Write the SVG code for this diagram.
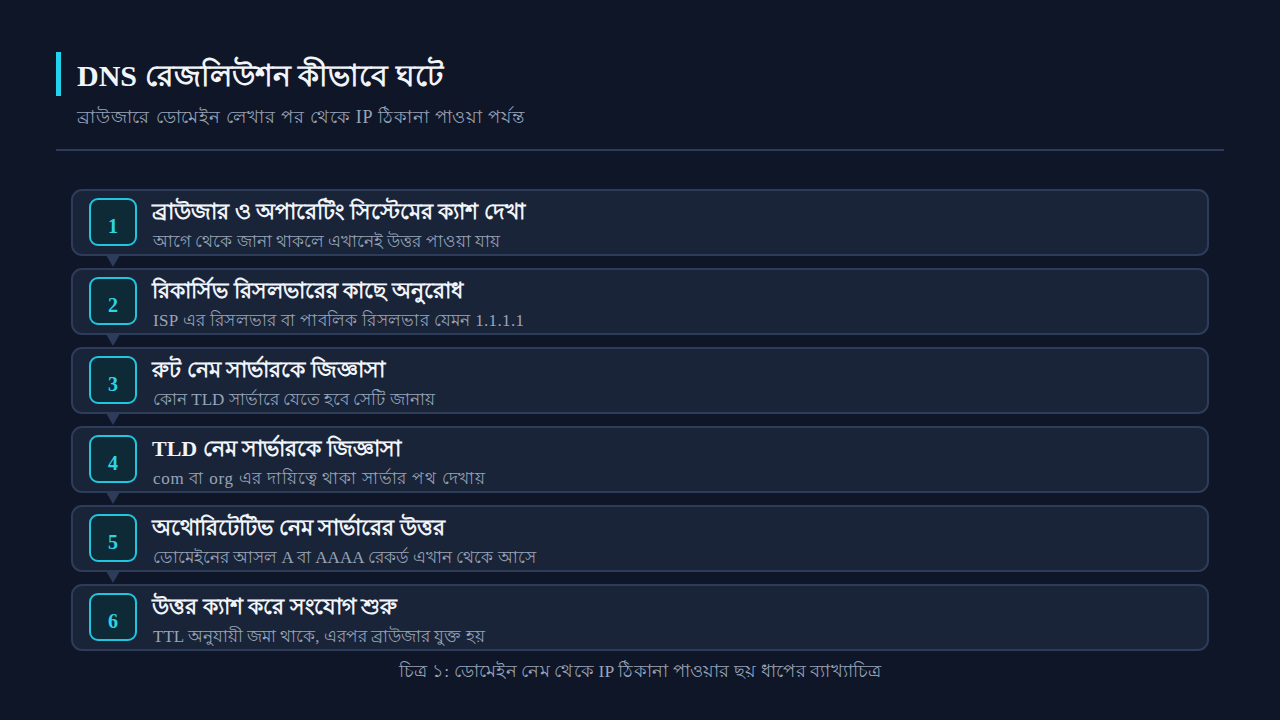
<svg xmlns="http://www.w3.org/2000/svg" width="1280" height="720" viewBox="0 0 1280 720">
<style>
text{font-family:"Liberation Serif",serif}
.card{fill:#1a2439;stroke:#2d3c58;stroke-width:2}
.badge{fill:#0f2a37;stroke:#22c5de;stroke-width:2}
.num{fill:#2dd4e8;font-size:20px;font-weight:700;text-anchor:middle}
.t{fill:#f1f5f9;font-size:22px;font-weight:700}
.s{fill:#98a4b8;font-size:17px}
.tri{fill:#2d3c58}
</style>
<rect width="1280" height="720" fill="#0f1628"/>
<g id="header">
<rect x="56" y="52" width="5" height="44" fill="#22d3ee"/>
<text x="77" y="86" style="font-size:30px;font-weight:700;fill:#f1f5f9">DNS রেজলিউশন কীভাবে ঘটে</text>
<text x="77" y="123" textLength="447" lengthAdjust="spacing" style="font-size:18px;fill:#98a4b8">ব্রাউজারে ডোমেইন লেখার পর থেকে IP ঠিকানা পাওয়া পর্যন্ত</text>
<line x1="56" y1="150" x2="1224" y2="150" stroke="#2d3c58" stroke-width="2"/>
</g>
<g id="connectors">
<path class="tri" d="M106 255 L120 255 L113 267 Z"/>
<path class="tri" d="M106 334 L120 334 L113 346 Z"/>
<path class="tri" d="M106 413 L120 413 L113 425 Z"/>
<path class="tri" d="M106 492 L120 492 L113 504 Z"/>
<path class="tri" d="M106 571 L120 571 L113 583 Z"/>
</g>
<g id="step1">
<rect class="card" x="72" y="190" width="1136" height="65" rx="10"/>
<rect class="badge" x="90" y="199" width="46" height="46" rx="8"/>
<text class="num" x="113" y="233">1</text>
<text class="t" x="152" y="219">ব্রাউজার ও অপারেটিং সিস্টেমের ক্যাশ দেখা</text>
<text class="s" x="153" y="247">আগে থেকে জানা থাকলে এখানেই উত্তর পাওয়া যায়</text>
</g>
<g id="step2">
<rect class="card" x="72" y="269" width="1136" height="65" rx="10"/>
<rect class="badge" x="90" y="278" width="46" height="46" rx="8"/>
<text class="num" x="113" y="312">2</text>
<text class="t" x="152" y="298">রিকার্সিভ রিসলভারের কাছে অনুরোধ</text>
<text class="s" x="153" y="326" textLength="371" lengthAdjust="spacing">ISP এর রিসলভার বা পাবলিক রিসলভার যেমন 1.1.1.1</text>
</g>
<g id="step3">
<rect class="card" x="72" y="348" width="1136" height="65" rx="10"/>
<rect class="badge" x="90" y="357" width="46" height="46" rx="8"/>
<text class="num" x="113" y="391">3</text>
<text class="t" x="152" y="377">রুট নেম সার্ভারকে জিজ্ঞাসা</text>
<text class="s" x="153" y="405">কোন TLD সার্ভারে যেতে হবে সেটি জানায়</text>
</g>
<g id="step4">
<rect class="card" x="72" y="427" width="1136" height="65" rx="10"/>
<rect class="badge" x="90" y="436" width="46" height="46" rx="8"/>
<text class="num" x="113" y="470">4</text>
<text class="t" x="152" y="456">TLD নেম সার্ভারকে জিজ্ঞাসা</text>
<text class="s" x="153" y="484" textLength="332" lengthAdjust="spacing">com বা org এর দায়িত্বে থাকা সার্ভার পথ দেখায়</text>
</g>
<g id="step5">
<rect class="card" x="72" y="506" width="1136" height="65" rx="10"/>
<rect class="badge" x="90" y="515" width="46" height="46" rx="8"/>
<text class="num" x="113" y="549">5</text>
<text class="t" x="152" y="535">অথোরিটেটিভ নেম সার্ভারের উত্তর</text>
<text class="s" x="153" y="563">ডোমেইনের আসল A বা AAAA রেকর্ড এখান থেকে আসে</text>
</g>
<g id="step6">
<rect class="card" x="72" y="585" width="1136" height="65" rx="10"/>
<rect class="badge" x="90" y="594" width="46" height="46" rx="8"/>
<text class="num" x="113" y="628">6</text>
<text class="t" x="152" y="614">উত্তর ক্যাশ করে সংযোগ শুরু</text>
<text class="s" x="153" y="642">TTL অনুযায়ী জমা থাকে, এরপর ব্রাউজার যুক্ত হয়</text>
</g>
<text x="640" y="677" text-anchor="middle" textLength="482" lengthAdjust="spacing" style="font-size:17.5px;fill:#98a4b8">চিত্র ১: ডোমেইন নেম থেকে IP ঠিকানা পাওয়ার ছয় ধাপের ব্যাখ্যাচিত্র</text>
</svg>
